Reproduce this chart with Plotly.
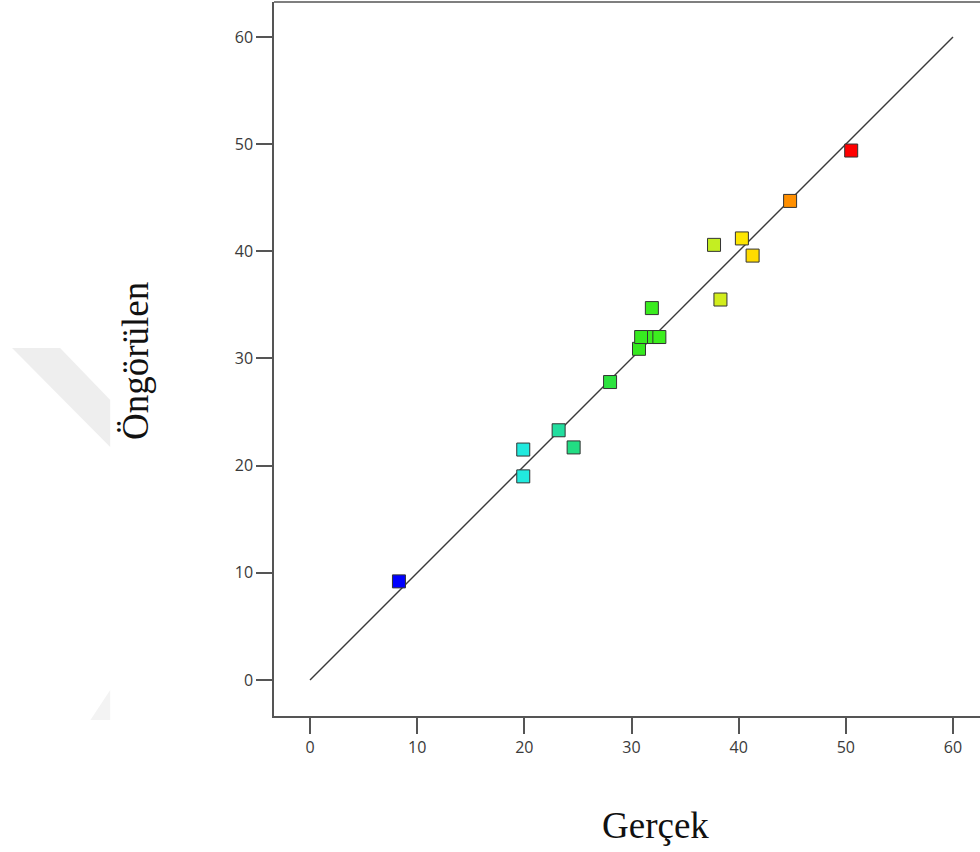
import plotly.graph_objects as go

# Actual vs predicted response values
gercek = [8.3, 19.9, 19.9, 23.2, 24.6, 28.0, 30.7, 30.9, 32.1, 32.6,
          31.9, 37.7, 38.3, 40.3, 41.3, 44.8, 50.5]
ongorulen = [9.2, 19.0, 21.5, 23.3, 21.7, 27.8, 30.9, 32.0, 32.0, 32.0,
             34.7, 40.6, 35.5, 41.2, 39.6, 44.7, 49.4]

# 1:1 reference line
ref_line = [0, 60]

x_ticks = [0, 10, 20, 30, 40, 50, 60]
y_ticks = [0, 10, 20, 30, 40, 50, 60]

# Rainbow colouring by actual value: blue -> cyan -> green -> yellow -> red
rainbow = [
    [0.00, "#0000ff"],
    [0.28, "#22eedd"],
    [0.36, "#22dd99"],
    [0.42, "#22dd66"],
    [0.50, "#33e622"],
    [0.58, "#3cee1e"],
    [0.70, "#c8ee22"],
    [0.76, "#ffe600"],
    [0.80, "#ffd200"],
    [0.87, "#ff8a00"],
    [1.00, "#ff0000"],
]

fig = go.Figure()

fig.add_trace(go.Scatter(
    x=ref_line, y=ref_line, mode="lines",
    line=dict(color="#3a3a3a", width=1.4),
    hoverinfo="skip", showlegend=False,
))

fig.add_trace(go.Scatter(
    x=gercek, y=ongorulen, mode="markers",
    marker=dict(
        symbol="square", size=13,
        color=gercek, colorscale=rainbow,
        cmin=min(gercek), cmax=max(gercek),
        line=dict(color="#333333", width=1),
    ),
    showlegend=False,
))

axis_font = dict(family="Open Sans, Noto Sans, sans-serif", size=16, color="#3a3a3a")

fig.update_xaxes(
    range=[-3.36, 62.52], tickvals=x_ticks, ticks="outside", ticklen=16,
    tickwidth=1.5, tickcolor="#555555", showline=True, linecolor="#555555",
    linewidth=1.5, showgrid=False, zeroline=False, tickfont=axis_font,
)
fig.update_yaxes(
    range=[-3.36, 63.26], tickvals=y_ticks, ticks="outside", ticklen=16,
    tickwidth=1.5, tickcolor="#555555", showline=True, linecolor="#555555",
    linewidth=1.5, showgrid=False, zeroline=False, tickfont=axis_font,
)

title_font = dict(family="Liberation Serif, Times New Roman, serif", size=37, color="#111111")

fig.update_layout(
    width=980, height=852,
    margin=dict(l=274, r=0, t=2, b=136),
    plot_bgcolor="white", paper_bgcolor="white",
    shapes=[
        # top frame edge
        dict(type="line", xref="paper", yref="paper", x0=0, x1=1, y0=1, y1=1,
             line=dict(color="#555555", width=1.5)),
        # faint background emblem on the left
        dict(type="path", xref="paper", yref="paper", layer="below",
             path="M -0.371,0.5154 L -0.303,0.5154 L -0.232,0.4426 L -0.232,0.3768 Z",
             fillcolor="#eeeeee", line=dict(width=0)),
        dict(type="path", xref="paper", yref="paper", layer="below",
             path="M -0.260,-0.0056 L -0.232,0.0364 L -0.232,-0.0056 Z",
             fillcolor="#f3f3f3", line=dict(width=0)),
    ],
    annotations=[
        dict(text="Gerçek", xref="paper", yref="paper", x=(655 - 274) / 706,
             y=-(826 - 716) / 714, xanchor="center", yanchor="middle",
             showarrow=False, font=title_font),
        dict(text="Öngörülen", xref="paper", yref="paper", x=(135 - 274) / 706,
             y=(716 - 361) / 714, xanchor="center", yanchor="middle",
             textangle=-90, showarrow=False, font=title_font),
    ],
)

fig.write_html("out.html")
